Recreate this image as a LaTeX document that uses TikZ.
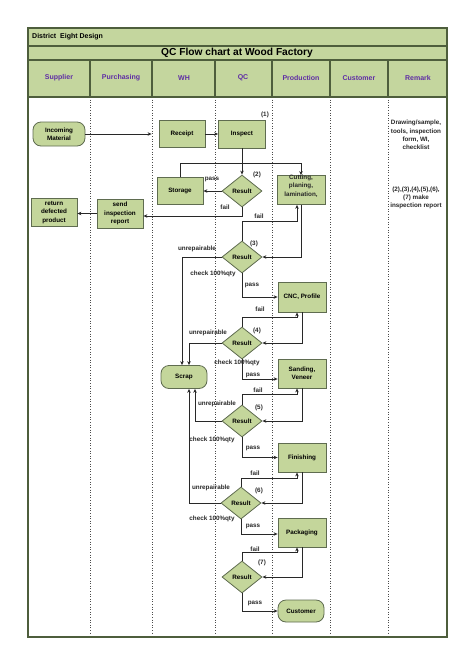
\documentclass[tikz,border=0pt]{standalone}
\usepackage{fontspec}
\setmainfont{Liberation Sans}
\usetikzlibrary{arrows.meta,shapes.geometric}
\definecolor{hdfill}{RGB}{196,214,158}
\definecolor{nfill}{RGB}{196,214,155}
\definecolor{frm}{RGB}{78,94,60}
\definecolor{nbd}{RGB}{95,108,80}
\definecolor{hdtxt}{RGB}{95,45,165}
\definecolor{ln}{RGB}{40,40,40}
\newcommand{\sfnt}{\fontsize{6.3}{8.3}\selectfont\bfseries}
\begin{document}
\begin{tikzpicture}[x=1pt,y=-1pt,
 box/.style={draw=nbd, fill=nfill, line width=0.8pt, inner sep=0pt, minimum width=46pt, minimum height=28pt, align=center, font=\sfnt},
 rbox/.style={box, rounded corners=8pt},
 dia/.style={draw=nbd, fill=nfill, line width=0.8pt, diamond, inner sep=0pt, minimum width=40pt, minimum height=32pt, font=\sfnt},
 arr/.style={draw=ln, line width=0.7pt, -{Stealth[length=4pt,width=3.5pt]}},
 lbl/.style={font=\sfnt, inner sep=0pt, text=ln},
 hd/.style={font=\fontsize{7}{8}\selectfont\bfseries, text=hdtxt, inner sep=0pt},
 colsep/.style={draw=black!70, line width=0.6pt, dotted}
]
\useasboundingbox (0,0) rectangle (474,665);
\fill[white] (0,0) rectangle (474,665);
% frame
\fill[hdfill] (28,28) rectangle (447,97);
\foreach \x in {90,152,215,272,330,388} \draw[colsep] (\x,97) -- (\x,634);
\draw[frm, line width=1.5pt] (28,28) rectangle (447,637);
\draw[frm, line width=1.5pt] (28,46) -- (447,46) (28,60) -- (447,60) (28,97) -- (447,97);
\foreach \x in {90,152,215,272,330,388} \draw[frm, line width=1.5pt] (\x,60) -- (\x,97);
\node[anchor=west, font=\fontsize{7}{8}\selectfont\bfseries, inner sep=0pt] (dist) at (32,37) {District\ \ Eight Design};
\node[font=\fontsize{10.2}{12}\selectfont\bfseries, inner sep=0pt] (title) at (237,53) {QC Flow chart at Wood Factory};
\node[hd] (h1) at (59,78) {Supplier};
\node[hd] (h2) at (121,78) {Purchasing};
\node[hd] (h3) at (184,78) {WH};
\node[hd] (h4) at (243,78) {QC};
\node[hd] (h5) at (301,78) {Production};
\node[hd] (h6) at (359,78) {Customer};
\node[hd] (h7) at (418,78) {Remark};
% nodes
\node[rbox, minimum width=52pt, minimum height=24pt] (inc) at (59,134) {Incoming\\Material};
\node[box, minimum height=27pt] (rec) at (182,134) {Receipt};
\node[box, minimum width=47pt] (insp) at (242,134) {Inspect};
\node[box, minimum height=27pt] (sto) at (180,191) {Storage};
\node[dia] (r2) at (242,191) {Result};
\node[box, minimum width=48pt, minimum height=29pt] (cut) at (301,190) {};
\node[lbl, align=center] (cuttxt) at (301,186) {Cutting,\\planing,\\lamination,};
\node[box, minimum height=29pt] (send) at (120,213.5) {send\\inspection\\report};
\node[box] (ret) at (54,212.5) {return\\defected\\product};
\node[dia] (r3) at (242,257) {Result};
\node[box, minimum width=48pt, minimum height=30pt] (cnc) at (302,297) {CNC, Profile};
\node[dia] (r4) at (242,343) {Result};
\node[rbox, minimum height=23pt] (scrap) at (184,377) {Scrap};
\node[box, minimum width=48pt, minimum height=29pt] (sand) at (302,373.5) {Sanding,\\Veneer};
\node[dia] (r5) at (242,421) {Result};
\node[box, minimum width=48pt, minimum height=29pt] (fin) at (302,457.5) {Finishing};
\node[dia] (r6) at (241,503) {Result};
\node[box, minimum width=48pt, minimum height=29pt] (pack) at (302,532.5) {Packaging};
\node[dia] (r7) at (242,577) {Result};
\node[rbox, minimum height=22pt] (cust) at (301,611) {Customer};
% connectors
\draw[arr] (inc.east) -- ([xshift=-7pt]rec.west);
\draw[arr] (rec.east) -- (insp.west);
\draw[arr] (insp.south) -- (r2.north);
\draw[arr] (sto.north) -- ++(0,-14) -| (cut.north);
\draw[arr] (r2.west) -- (sto.east);
\draw[arr] (r2.south) |- ([yshift=-2.5pt]send.east);
\draw[arr] (send.west) -- (send.west -| ret.east);
% stage 3
\draw[arr] (cut.south) |- (r3.east);
\draw[arr] (r3.north) -- ++(0,-19) -| ([xshift=-4pt]cut.south);
\draw[arr] (r3.west) -| ([xshift=-2pt]scrap.north);
\draw[arr] (r3.south) |- (cnc.west);
% stage 4
\draw[arr] (cnc.south) |- (r4.east);
\draw[arr] (r4.north) -- ++(0,-9) -| ([xshift=-5pt]cnc.south);
\draw[arr] (r4.west) -| ([xshift=5pt]scrap.north);
\draw[arr] (r4.south) |- ([yshift=-5.5pt]sand.west);
% stage 5
\draw[arr] (sand.south) |- (r5.east);
\draw[arr] (r5.north) -- ++(0,-10) -| ([xshift=-5pt]sand.south);
\draw[arr] (r5.west) -| ([xshift=11pt]scrap.south);
\draw[arr] (r5.south) |- (fin.west);
% stage 6
\draw[arr] (fin.south) |- (r6.east);
\draw[arr] (r6.north) -- ++(0,-8) -| ([xshift=-5pt]fin.south);
\draw[arr] (r6.west) -| ([xshift=5pt]scrap.south);
\draw[arr] (r6.south) |- ([yshift=-1.5pt]pack.west);
% stage 7
\draw[arr] (pack.south) |- (r7.east);
\draw[arr] (r7.north) -- ++(0,-8) -| ([xshift=-5pt]pack.south);
\draw[arr] (r7.south) |- (cust.west);
% labels
\node[lbl] (n1) at (265,115) {(1)};
\node[lbl] (n2) at (257,175) {(2)};
\node[lbl] (p2) at (212,179) {pass};
\node[lbl] (f2) at (225,207) {fail};
\node[lbl] (f3) at (259,216) {fail};
\node[lbl] (n3) at (254,244) {(3)};
\node[lbl] (u3) at (197,249) {unrepairable};
\node[lbl] (c3) at (213,274) {check 100\%qty};
\node[lbl] (p3) at (252,285) {pass};
\node[lbl] (f4) at (260,309) {fail};
\node[lbl] (n4) at (257,331) {(4)};
\node[lbl] (u4) at (208,333) {unrepairable};
\node[lbl] (c4) at (237,363) {check 100\%qty};
\node[lbl] (p4) at (253,375) {pass};
\node[lbl] (f5) at (258,390) {fail};
\node[lbl] (n5) at (259,408) {(5)};
\node[lbl] (u5) at (217,404) {unrepairable};
\node[lbl] (c5) at (212,440) {check 100\%qty};
\node[lbl] (p5) at (253,448) {pass};
\node[lbl] (f6) at (255,473) {fail};
\node[lbl] (n6) at (259,491) {(6)};
\node[lbl] (u6) at (211,488) {unrepairable};
\node[lbl] (c6) at (212,519) {check 100\%qty};
\node[lbl] (p6) at (253,526) {pass};
\node[lbl] (f7) at (255,549) {fail};
\node[lbl] (n7) at (262,563) {(7)};
\node[lbl] (p7) at (255,603) {pass};
\node[lbl, align=center] (rm1) at (416,135) {Drawing/sample,\\tools, inspection\\form, WI,\\checklist};
\node[lbl, align=center] (rm2) at (416,198) {(2),(3),(4),(5),(6),\\(7) make\\inspection report};
\end{tikzpicture}
\end{document}
